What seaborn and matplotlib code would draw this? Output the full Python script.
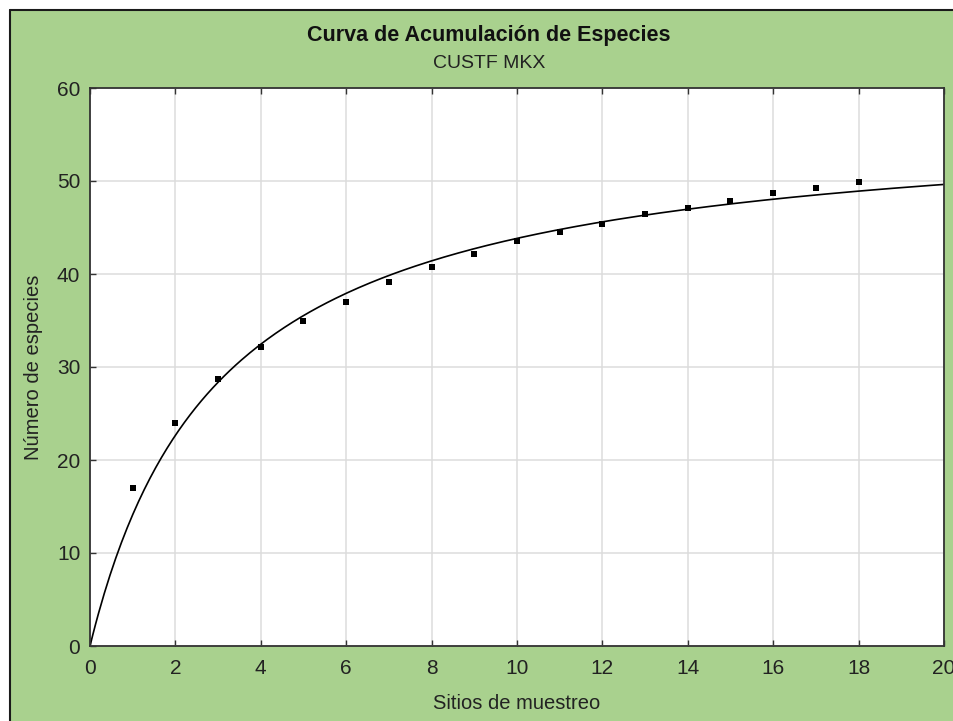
import numpy as np
import pandas as pd
import matplotlib
matplotlib.use("Agg")
import matplotlib.pyplot as plt
from matplotlib.patches import Rectangle
from matplotlib.lines import Line2D
import seaborn as sns

# observed cumulative species per sampling site
sitios = [1, 2, 3, 4, 5, 6, 7, 8, 9, 10, 11, 12, 13, 14, 15, 16, 17, 18]
especies = [17.0, 24.0, 28.7, 32.2, 34.9, 37.0, 39.1, 40.7, 42.2, 43.5,
            44.5, 45.4, 46.4, 47.1, 47.9, 48.7, 49.3, 49.9]

# Clench model fit S = a*x / (b + x), parameters
clench_a = 57.2
clench_b = 3.05

x_ticks = [0, 2, 4, 6, 8, 10, 12, 14, 16, 18, 20]
y_ticks = [0, 10, 20, 30, 40, 50, 60]

green = "#A9D18E"

obs = pd.DataFrame({"sitio": sitios, "especies": especies})
xs = np.linspace(0, 20, 300)
fit = pd.DataFrame({"sitio": xs, "especies": clench_a * xs / (clench_b + xs)})

sns.set_style("whitegrid")
plt.rcParams["font.family"] = ["Liberation Sans", "DejaVu Sans"]

fig = plt.figure(figsize=(9.54, 7.21), dpi=100, facecolor="white")
fig.patch.set_edgecolor("none")
fig.patch.set_linewidth(0)
# green panel, black frame only on top and left (the rest is cut by the canvas)
x0 = 10.5 / 954
y1 = 1 - 9.5 / 721
fig.patches.append(Rectangle((x0, -0.05), 1.1, y1 + 0.05, transform=fig.transFigure,
                             facecolor=green, edgecolor="none", linewidth=0, zorder=-10))
fig.add_artist(Line2D([x0, x0], [0, y1], transform=fig.transFigure,
                      color="#1a1a1a", linewidth=1.5))
fig.add_artist(Line2D([x0, 1.02], [y1, y1], transform=fig.transFigure,
                      color="#1a1a1a", linewidth=1.5))

ax = fig.add_axes([90 / 954, 75 / 721, 854 / 954, 558 / 721])
ax.set_facecolor("white")

sns.lineplot(data=fit, x="sitio", y="especies", color="black", linewidth=1.2, ax=ax)
sns.scatterplot(data=obs, x="sitio", y="especies", marker="s", color="black",
                s=22, edgecolor="black", linewidth=0, ax=ax, zorder=3)

ax.set_xlim(0, 20)
ax.set_ylim(0, 60)
ax.set_xticks(x_ticks)
ax.set_yticks(y_ticks)
ax.grid(True, color="#dcdcdc", linewidth=1.1)
for s in ax.spines.values():
    s.set_color("#333333")
    s.set_linewidth(1.3)
    s.set_visible(True)
ax.tick_params(direction="in", length=4, width=1, color="#333333",
               top=True, bottom=True, left=True, right=False,
               labelsize=15, labelcolor="#222222", pad=7)
ax.tick_params(axis="x", pad=9)

ax.set_xlabel("Sitios de muestreo", fontsize=14.5, color="#222222", labelpad=12)
ax.set_ylabel("Número de especies", fontsize=14.5, color="#222222", labelpad=10)

fig.text(489 / 954, 1 - 36 / 721, "Curva de Acumulación de Especies",
         ha="center", va="center", fontsize=15.5, fontweight="bold", color="#111111")
fig.text(489 / 954, 1 - 64 / 721, "CUSTF MKX",
         ha="center", va="center", fontsize=14, color="#222222")

fig.savefig("out.png", dpi=100, facecolor="white", edgecolor="none")
